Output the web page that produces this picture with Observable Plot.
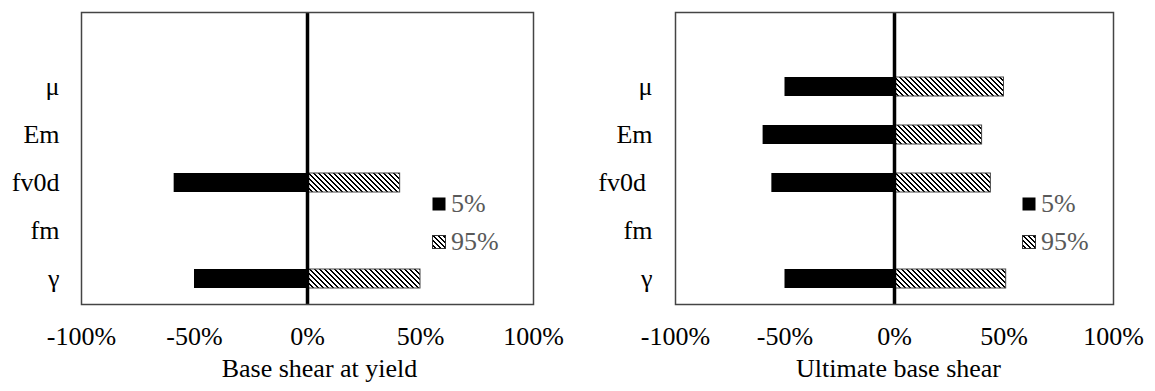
<!DOCTYPE html>
<html>
<head>
<meta charset="utf-8">
<script src="https://cdn.jsdelivr.net/npm/d3@7"></script>
<script src="https://cdn.jsdelivr.net/npm/@observablehq/plot@0.6"></script>
<style>
  body { margin: 0; background: #fff; font-family: "Liberation Serif", serif; }
  #row { display: flex; width: 1155px; height: 391px; }
  .panel { position: relative; }
  .panel svg text { font-family: "Liberation Serif", serif !important; }
  .legend-row { position: absolute; display: flex; align-items: center; height: 26px; line-height: 26px;
                font-size: 26px; color: #595959; font-family: "Liberation Serif", serif; }
  .legend-row svg { display: block; margin-right: 5px; }
</style>
</head>
<body>
<!-- shared diagonal hatch (pixel-aligned) used by the 95% bars -->
<svg width="0" height="0" style="position:absolute">
  <defs>
    <pattern id="hatch" patternUnits="userSpaceOnUse" width="5" height="5" shape-rendering="crispEdges"></pattern>
  </defs>
</svg>
<div id="row"></div>
<script>
// Sensitivity parameters, top to bottom (a blank band sits above μ)
const params = ["μ", "Em", "fv0d", "fm", "γ"];
const slots = ["", ...params];
const xTicks = [-100, -50, 0, 50, 100];
const seriesNames = ["5%", "95%"];

// Change in base shear at yield (%)
const yieldP5 = [null, null, -59, null, -50];
const yieldP95 = [null, null, 41, null, 50];

// Change in ultimate base shear (%)
const ultP5 = [-50, -60, -56, null, -50];
const ultP95 = [50, 40, 44, null, 51];

const titles = ["Base shear at yield", "Ultimate base shear"];

// build the 5x5 "\" hatch tile
{
  const pat = d3.select("#hatch");
  pat.append("rect").attr("width", 5).attr("height", 5).attr("fill", "#fff");
  for (let y = 0; y < 5; y++) {
    for (const k of [0, 1]) {
      pat.append("rect").attr("x", (y + k) % 5).attr("y", y).attr("width", 1).attr("height", 1).attr("fill", "#000");
    }
  }
}

function rowsFor(low, high) {
  const out = [];
  params.forEach((p, i) => {
    if (low[i] != null) out.push({param: p, series: seriesNames[0], value: low[i]});
    if (high[i] != null) out.push({param: p, series: seriesNames[1], value: high[i]});
  });
  return out;
}

function panel({width, marginLeft, marginRight, yPad, title, titleDx, low, high, tickLabel, legendLeft}) {
  const rows = rowsFor(low, high);
  const chart = Plot.plot({
    width,
    height: 391,
    marginTop: 12,
    marginBottom: 87,
    marginLeft,
    marginRight,
    style: {fontFamily: "'Liberation Serif', serif", fontSize: "26px", color: "#000", background: "#fff", overflow: "visible"},
    x: {domain: [-100, 100], ticks: xTicks, tickFormat: d => d + "%", tickSize: 0, tickPadding: 22.5, label: null},
    y: {domain: slots, paddingInner: 0.61, paddingOuter: 0.305, tickSize: 0, tickPadding: yPad, label: null, tickFormat: tickLabel},
    marks: [
      Plot.barX(rows.filter(d => d.series === "5%"), {y: "param", x: "value", fill: "#000"}),
      Plot.barX(rows.filter(d => d.series === "95%"), {y: "param", x: "value", fill: "url(#hatch)", stroke: "#444", strokeWidth: 1}),
      Plot.ruleX([0], {stroke: "#000", strokeWidth: 3.5}),
      Plot.frame({stroke: "#444", strokeWidth: 1.5}),
      Plot.text([title], {text: d => d, frameAnchor: "bottom", dy: 72, dx: titleDx, fontSize: 26, fill: "#000"})
    ]
  });
  d3.select(chart).selectAll("text").attr("font-family", "Liberation Serif, serif");
  const div = document.createElement("div");
  div.className = "panel";
  div.style.width = width + "px";
  div.appendChild(chart);
  // legend inside the plot frame
  [[seriesNames[0], "#000", 191], [seriesNames[1], "url(#hatch)", 229]].forEach(([name, fill, top]) => {
    const r = d3.select(div).append("div")
      .attr("class", "legend-row")
      .style("left", legendLeft + "px")
      .style("top", top + "px");
    const sw = r.append("svg").attr("width", 14).attr("height", 14);
    sw.append("rect").attr("x", 0.5).attr("y", 0.5).attr("width", 13).attr("height", 13)
      .attr("fill", fill).attr("stroke", fill === "#000" ? "none" : "#333");
    r.append("span").text(name);
  });
  return div;
}

const row = document.getElementById("row");
row.appendChild(panel({
  width: 577, marginLeft: 81, marginRight: 44, yPad: 22,
  title: titles[0], titleDx: 12, low: yieldP5, high: yieldP95,
  tickLabel: d => d, legendLeft: 432
}));
row.appendChild(panel({
  width: 578, marginLeft: 98, marginRight: 42, yPad: 23,
  title: titles[1], titleDx: 4, low: ultP5, high: ultP95,
  tickLabel: d => d === "fv0d" ? "fv0d\u00a0" : d, legendLeft: 445
}));
</script>
</body>
</html>
